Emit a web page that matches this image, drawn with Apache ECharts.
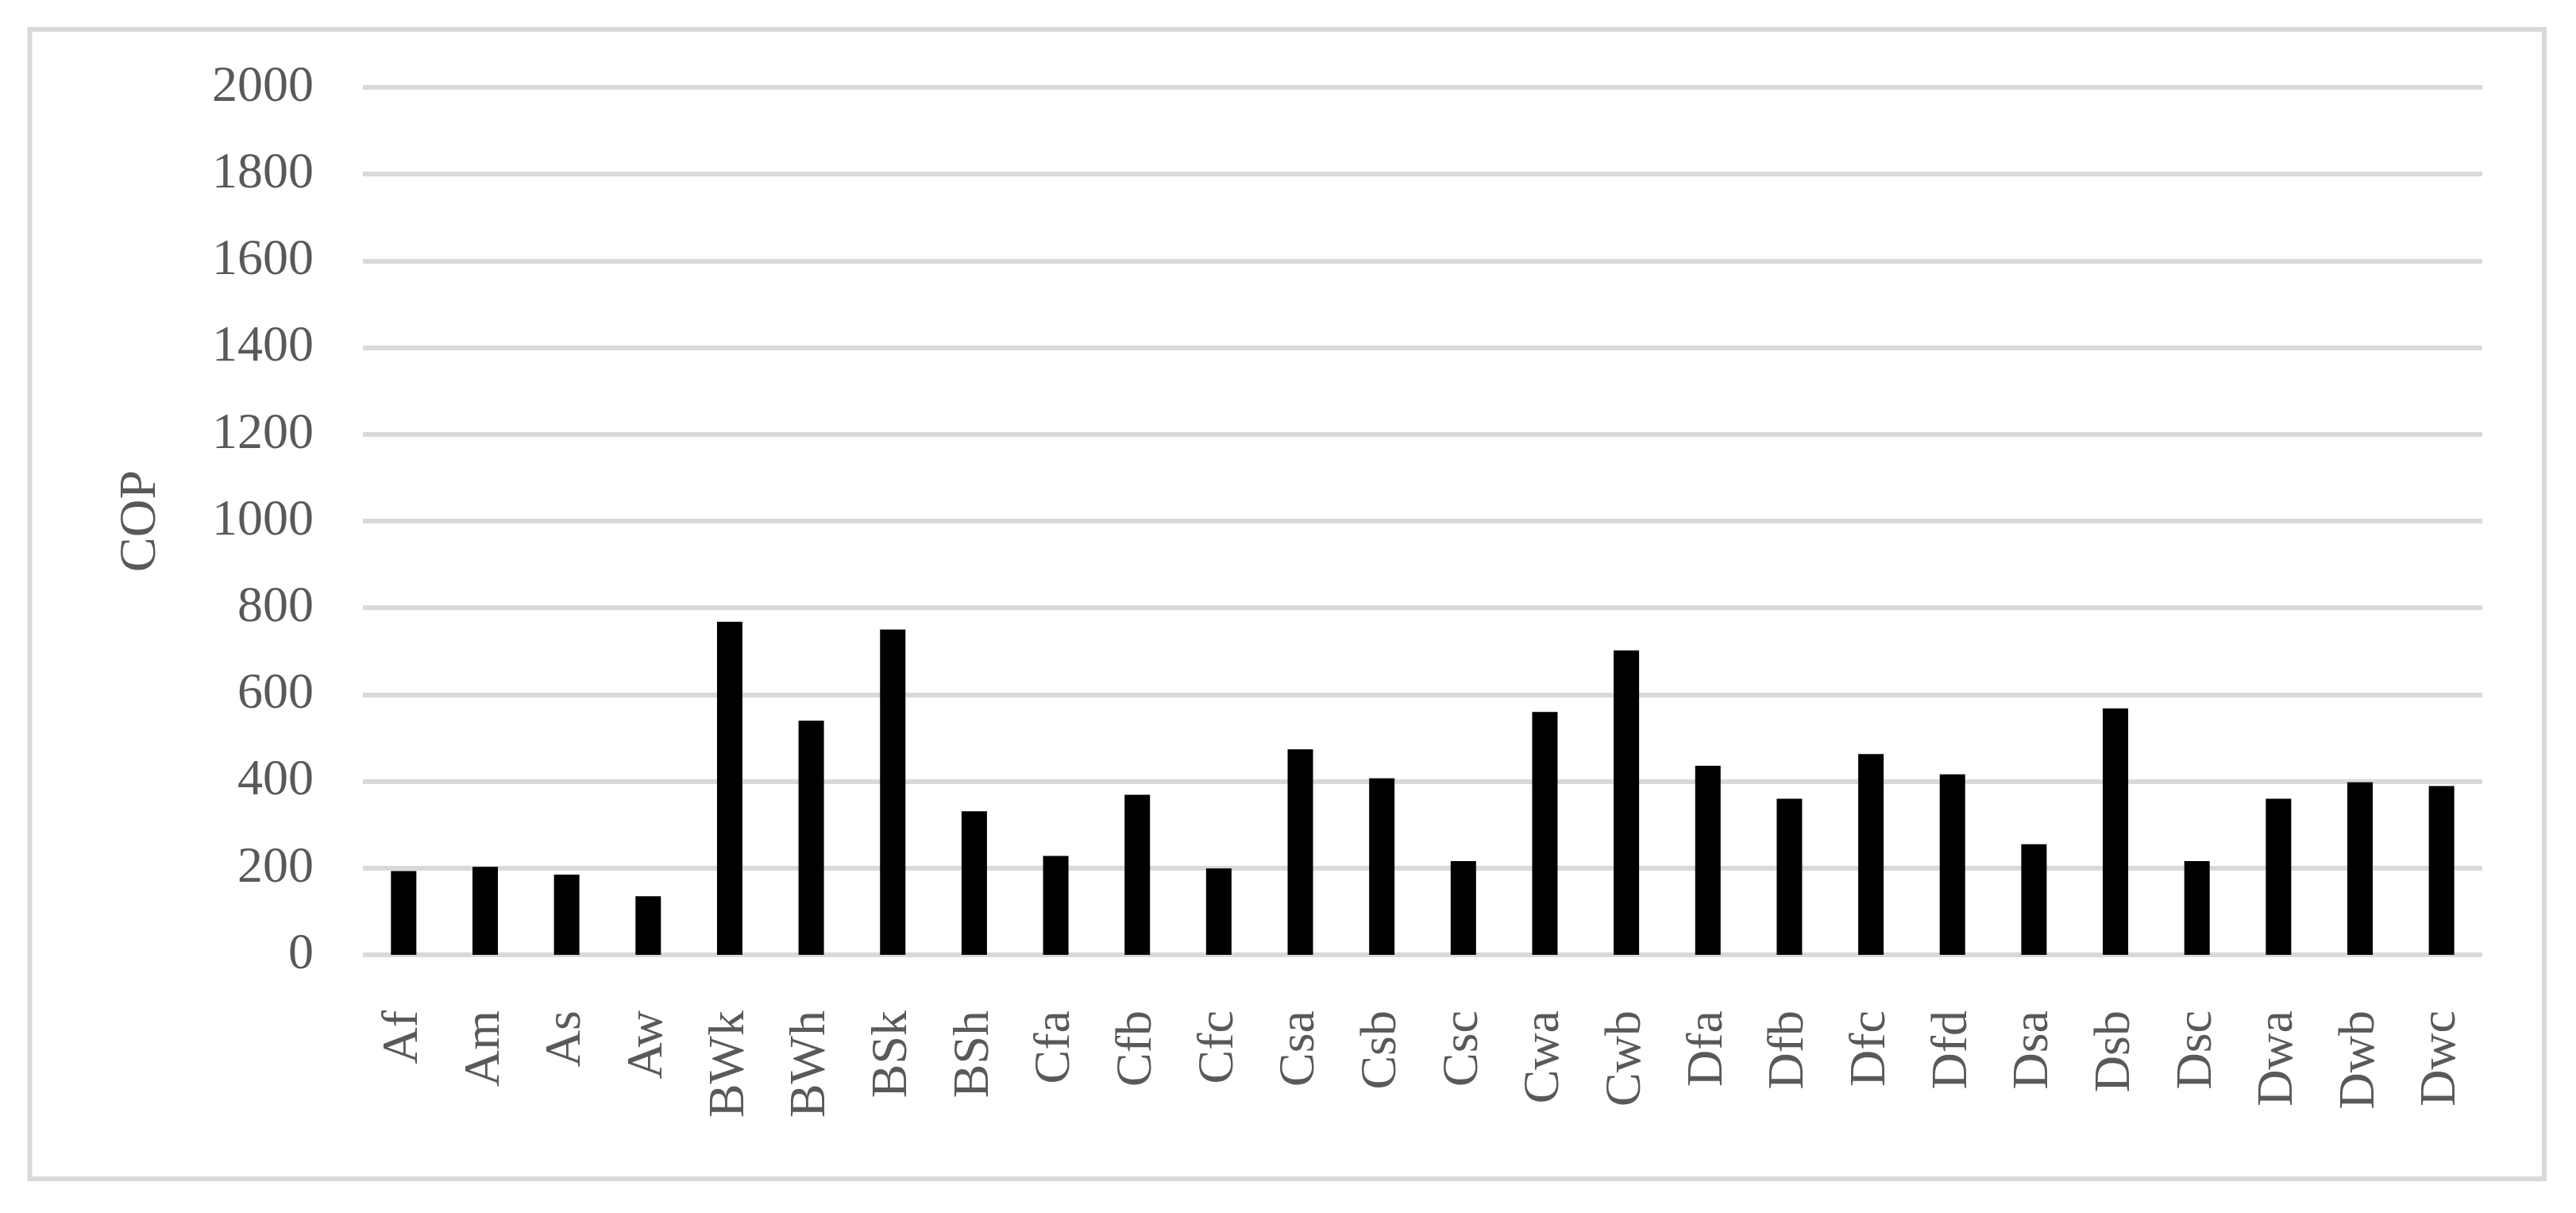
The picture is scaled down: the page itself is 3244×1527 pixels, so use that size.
<!DOCTYPE html>
<html>
<head>
<meta charset="utf-8">
<script src="https://cdn.jsdelivr.net/npm/echarts@6/dist/echarts.min.js"></script>
<style>
    html, body { margin: 0; padding: 0; background: #fff; }
    #chart { width: 3244px; height: 1527px; }
</style>
</head>
<body>
<div id="chart"></div>
<script>
// climate classes on x axis
var categories = ['Af', 'Am', 'As', 'Aw', 'BWk', 'BWh', 'BSk', 'BSh', 'Cfa', 'Cfb', 'Cfc', 'Csa', 'Csb',
    'Csc', 'Cwa', 'Cwb', 'Dfa', 'Dfb', 'Dfc', 'Dfd', 'Dsa', 'Dsb', 'Dsc', 'Dwa', 'Dwb', 'Dwc'];
// COP values
var copValues = [193, 203, 185, 135, 768, 540, 750, 331, 228, 369, 199, 474, 407,
    216, 560, 702, 436, 360, 463, 416, 255, 568, 216, 360, 398, 389];
// y axis ticks
var yTicks = [0, 200, 400, 600, 800, 1000, 1200, 1400, 1600, 1800, 2000];

var chart = echarts.init(document.getElementById('chart'));
var fontFamily = '"Liberation Serif", serif';
var textColor = '#595959';
var gridColor = '#d9d9d9';

var option = {
    backgroundColor: '#fff',
    animation: false,
    graphic: [{
        type: 'rect',
        shape: { x: 37.5, y: 37, width: 3166.5, height: 1447 },
        style: { fill: 'none', stroke: gridColor, lineWidth: 6 }
    }],
    grid: {
        left: 457,
        right: 118,
        top: 110,
        bottom: 325
    },
    xAxis: {
        type: 'category',
        data: categories,
        axisLine: { show: false },
        axisTick: { show: false },
        axisLabel: {
            rotate: 90,
            margin: 70,
            interval: 0,
            color: textColor,
            fontFamily: fontFamily,
            fontSize: 64
        }
    },
    yAxis: {
        type: 'value',
        min: yTicks[0],
        max: yTicks[yTicks.length - 1],
        interval: yTicks[1] - yTicks[0],
        name: 'COP',
        nameLocation: 'middle',
        nameRotate: 90,
        nameGap: 246,
        nameTextStyle: {
            color: textColor,
            fontFamily: fontFamily,
            fontSize: 66
        },
        axisLine: { show: false },
        axisTick: { show: false },
        axisLabel: {
            margin: 62,
            color: textColor,
            fontFamily: fontFamily,
            fontSize: 64,
            formatter: function (v) { return String(v); }
        },
        splitLine: {
            lineStyle: { color: gridColor, width: 6 }
        }
    },
    series: [{
        name: 'COP',
        type: 'bar',
        data: copValues,
        barWidth: 32,
        itemStyle: { color: '#000' }
    }]
};
chart.setOption(option);
</script>
</body>
</html>
